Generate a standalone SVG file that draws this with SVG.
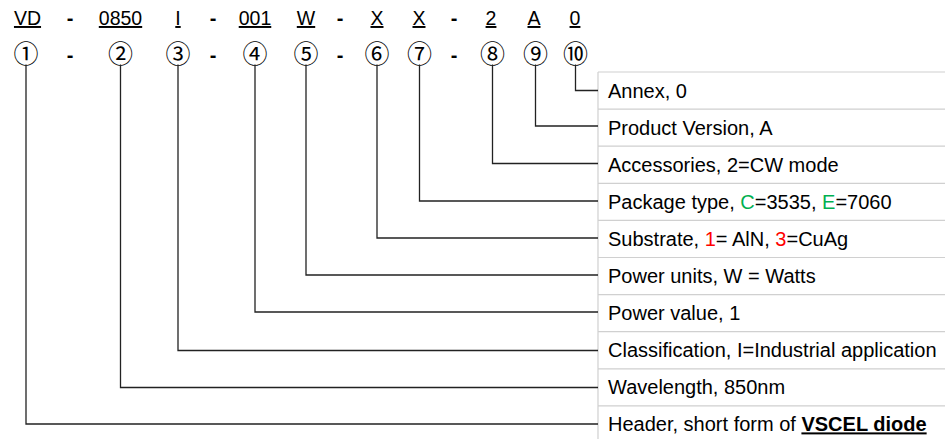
<svg xmlns="http://www.w3.org/2000/svg" width="945" height="439" viewBox="0 0 945 439">
<style>
.code{font-family:"Liberation Sans",Arial,sans-serif;font-size:19.5px;fill:#000;text-anchor:middle;text-decoration:underline}
.dash{font-family:"Liberation Sans",Arial,sans-serif;font-size:20px;fill:#000;text-anchor:middle;font-weight:bold}
.num{font-family:"Noto Sans CJK JP",sans-serif;font-size:25px;fill:#000;text-anchor:middle}
.lbl{font-family:"Liberation Sans",Arial,sans-serif;font-size:20px;fill:#000}
.grid{stroke:#d0d0d0;stroke-width:1.2;fill:none}
.con{stroke:#222;stroke-width:1.3;fill:none}
.g{fill:#00b050}
.r{fill:#ff0000}
</style>
<rect width="945" height="439" fill="#fff"/>
<g id="code">
<text class="code" x="27.5" y="25">VD</text>
<text class="dash" x="70" y="25">-</text>
<text class="code" x="120.5" y="25">0850</text>
<text class="code" x="178" y="25">I</text>
<text class="dash" x="213" y="25">-</text>
<text class="code" x="255" y="25">001</text>
<text class="code" x="306" y="25">W</text>
<text class="dash" x="340" y="25">-</text>
<text class="code" x="377" y="25">X</text>
<text class="code" x="419" y="25">X</text>
<text class="dash" x="454" y="25">-</text>
<text class="code" x="491" y="25">2</text>
<text class="code" x="534" y="25">A</text>
<text class="code" x="575" y="25">0</text>
</g>
<g id="numbers">
<text class="num" x="26" y="63">①</text>
<text class="dash" x="70" y="62">-</text>
<text class="num" x="120.5" y="63">②</text>
<text class="num" x="178" y="63">③</text>
<text class="dash" x="213" y="62">-</text>
<text class="num" x="255" y="63">④</text>
<text class="num" x="306" y="63">⑤</text>
<text class="dash" x="340" y="62">-</text>
<text class="num" x="377" y="63">⑥</text>
<text class="num" x="419.5" y="63">⑦</text>
<text class="dash" x="454" y="62">-</text>
<text class="num" x="492.5" y="63">⑧</text>
<text class="num" x="535.5" y="63">⑨</text>
<text class="num" x="575.5" y="63">⑩</text>
</g>
<g id="table">
<path class="grid" d="M598 72V439 M598 72H945 M598 109.1H945 M598 146.2H945 M598 183.3H945 M598 220.4H945 M598 257.5H945 M598 294.6H945 M598 331.7H945 M598 368.8H945 M598 405.9H945"/>
<text class="lbl" x="608" y="97.5">Annex, 0</text>
<text class="lbl" x="608" y="134.6">Product Version, A</text>
<text class="lbl" x="608" y="171.7">Accessories, 2=CW mode</text>
<text class="lbl" x="608" y="208.8">Package type, <tspan class="g">C</tspan>=3535, <tspan class="g">E</tspan>=7060</text>
<text class="lbl" x="608" y="245.9">Substrate, <tspan class="r">1</tspan>= AlN, <tspan class="r">3</tspan>=CuAg</text>
<text class="lbl" x="608" y="283">Power units, W = Watts</text>
<text class="lbl" x="608" y="320.1">Power value, 1</text>
<text class="lbl" x="608" y="357.2">Classification, I=Industrial application</text>
<text class="lbl" x="608" y="394.3">Wavelength, 850nm</text>
<text class="lbl" x="608" y="431.4">Header, short form of <tspan font-weight="bold" text-decoration="underline">VSCEL diode</tspan></text>
</g>
<g id="connectors">
<path class="con" d="M575.5 64.5V90.5H598"/>
<path class="con" d="M535.5 64.5V126H598"/>
<path class="con" d="M492.5 64.5V163.5H598"/>
<path class="con" d="M419.5 64.5V201H598"/>
<path class="con" d="M377 64.5V238H598"/>
<path class="con" d="M306 64.5V275H598"/>
<path class="con" d="M255 64.5V312H598"/>
<path class="con" d="M178 64.5V350.5H598"/>
<path class="con" d="M120.5 64.5V387.5H598"/>
<path class="con" d="M26 64.5V424H598"/>
</g>
</svg>
